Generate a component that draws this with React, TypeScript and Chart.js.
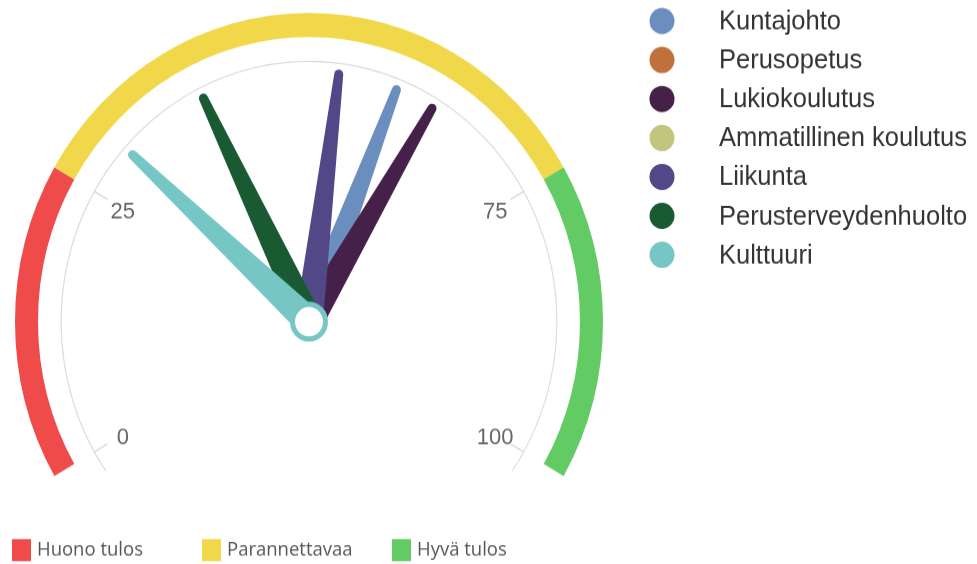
import React, { useEffect, useRef } from 'react';
import { Chart, registerables } from 'chart.js';

Chart.register(...registerables);

// ---------- data ----------
const seriesNames = [
  'Kuntajohto',
  'Perusopetus',
  'Lukiokoulutus',
  'Ammatillinen koulutus',
  'Liikunta',
  'Perusterveydenhuolto',
  'Kulttuuri',
];
const seriesValues: (number | null)[] = [59, null, 63, null, 53, 39, 30];
const seriesColors = ['#6a8fbf', '#c0703a', '#45214a', '#c0c67e', '#524888', '#1a5a33', '#77c6c6'];

const bandNames = ['Huono tulos', 'Parannettavaa', 'Hyvä tulos'];
const bandEdges = [0, 25, 75, 100];
const bandColors = ['#ef4b4b', '#f0d84a', '#63cb63'];

const tickValues = [0, 25, 75, 100];
const tickLabels = ['0', '25', '75', '100'];

const gaugeMin = 0;
const gaugeMax = 100;

// ---------- geometry / style ----------
const W = 977;
const PAGE_H = 564;
const H = 537; // drawing buffer height (stretched to PAGE_H by CSS)
const SWEEP = 240;
const OVERHANG = 5;
const R_OUT = 294;
const BAND_W = 23;
const GAP_W = 22.5;
const LINE_W = 1.2;
const CX = 309;
const CY = 306.3;

const unitsPerDeg = (gaugeMax - gaugeMin) / SWEEP;
const pad = OVERHANG * unitsPerDeg;
const bandData = [pad, ...bandEdges.slice(1).map((e, i) => e - bandEdges[i]), pad];
const bandBg = ['rgba(0,0,0,0)', ...bandColors, 'rgba(0,0,0,0)'];
const totalW = BAND_W + GAP_W + LINE_W;
const cutoutPct = ((R_OUT - totalW) / R_OUT) * 100;
const rot = -(SWEEP / 2 + OVERHANG);
const circ = SWEEP + 2 * OVERHANG;
// offsetY of a doughnut with this rotation/circumference (for placing the chart area)
const endRad = ((rot - 90 + circ) * Math.PI) / 180;
const offY = -(Math.sin(endRad) - 1) / 2;
const areaMidY = CY - offY * R_OUT;

const gaugePlugin = {
  id: 'gaugeExtras',
  afterDatasetsDraw(chart: any) {
    const ctx: CanvasRenderingContext2D = chart.ctx;
    const arcs = chart.getDatasetMeta(0).data as any[];
    if (!arcs.length) return;
    const cx = arcs[0].x;
    const cy = arcs[0].y;
    const a0 = arcs[1].startAngle;
    const a1 = arcs[arcs.length - 2].endAngle;
    const ang = (v: number) => a0 + ((v - gaugeMin) / (gaugeMax - gaugeMin)) * (a1 - a0);
    const lineArc = chart.getDatasetMeta(2).data[0] as any;
    const rLine = (lineArc.innerRadius + lineArc.outerRadius) / 2;

    ctx.save();
    // ticks + labels
    ctx.strokeStyle = '#d0d0d0';
    ctx.lineWidth = 1.2;
    ctx.fillStyle = '#666';
    ctx.font = '22px "Liberation Sans", Arial, sans-serif';
    ctx.textAlign = 'center';
    ctx.textBaseline = 'middle';
    tickValues.forEach((v, i) => {
      const a = ang(v);
      const c = Math.cos(a);
      const s = Math.sin(a);
      ctx.beginPath();
      ctx.moveTo(cx + c * (rLine - 15), cy + s * (rLine - 15));
      ctx.lineTo(cx + c * rLine, cy + s * rLine);
      ctx.stroke();
      ctx.fillText(tickLabels[i], cx + c * 215, cy + s * 215 + 3);
    });

    // needles
    const TIP = 237.5;
    const TIP_HW = 4.5;
    const BASE_HW = 14;
    let lastColor = seriesColors[seriesColors.length - 1];
    seriesValues.forEach((v, i) => {
      if (v == null) return;
      const a = ang(v);
      const c = Math.cos(a);
      const s = Math.sin(a);
      const px = -s;
      const py = c;
      const tx = cx + c * TIP;
      const ty = cy + s * TIP;
      ctx.beginPath();
      ctx.moveTo(cx + px * BASE_HW, cy + py * BASE_HW);
      ctx.lineTo(tx + px * TIP_HW, ty + py * TIP_HW);
      ctx.arc(tx, ty, TIP_HW, a + Math.PI / 2, a - Math.PI / 2, true);
      ctx.lineTo(cx - px * BASE_HW, cy - py * BASE_HW);
      ctx.arc(cx, cy, BASE_HW, a - Math.PI / 2, a + Math.PI / 2, true);
      ctx.closePath();
      ctx.fillStyle = seriesColors[i];
      ctx.fill();
      lastColor = seriesColors[i];
    });
    // pivot
    ctx.beginPath();
    ctx.arc(cx, cy, 16.5, 0, Math.PI * 2);
    ctx.fillStyle = '#fff';
    ctx.fill();
    ctx.lineWidth = 5;
    ctx.strokeStyle = lastColor;
    ctx.stroke();
    ctx.restore();
  },
  afterDraw(chart: any) {
    const ctx: CanvasRenderingContext2D = chart.ctx;
    ctx.save();
    // right legend (series)
    ctx.textAlign = 'left';
    ctx.textBaseline = 'middle';
    ctx.font = '25.5px "Liberation Sans", Arial, sans-serif';
    seriesNames.forEach((name, i) => {
      const y = 20 + i * 37.1;
      ctx.beginPath();
      ctx.arc(662, y, 12.5, 0, Math.PI * 2);
      ctx.fillStyle = seriesColors[i];
      ctx.fill();
      ctx.fillStyle = '#333';
      ctx.fillText(name, 719, y + 1);
    });
    // bottom legend (bands)
    ctx.font = '18.5px "Open Sans", "Liberation Sans", sans-serif';
    bandNames.forEach((name, i) => {
      const x = 12 + i * 190;
      const yMid = 523.8;
      ctx.fillStyle = bandColors[i];
      ctx.fillRect(x, yMid - 10.5, 19, 21);
      ctx.fillStyle = '#555';
      ctx.fillText(name, x + 25, yMid);
    });
    ctx.restore();
  },
};

export default function App() {
  const ref = useRef<HTMLCanvasElement>(null);

  useEffect(() => {
    const canvas = ref.current;
    if (!canvas) return;
    const chart = new Chart(canvas, {
      type: 'doughnut',
      data: {
        labels: ['', ...bandNames, ''],
        datasets: [
          { data: bandData, backgroundColor: bandBg, borderWidth: 0, weight: BAND_W } as any,
          { data: [1], backgroundColor: ['rgba(0,0,0,0)'], borderWidth: 0, weight: GAP_W } as any,
          { data: [1], backgroundColor: ['#dcdcdc'], borderWidth: 0, weight: LINE_W } as any,
        ],
      },
      options: {
        responsive: false,
        devicePixelRatio: 1,
        animation: false,
        events: [],
        rotation: rot,
        circumference: circ,
        radius: R_OUT,
        cutout: cutoutPct + '%',
        layout: {
          padding: {
            left: 0,
            right: W - 2 * CX,
            top: 0,
            bottom: H - 2 * areaMidY,
          },
        },
        plugins: {
          legend: { display: false },
          tooltip: { enabled: false },
        },
      } as any,
      plugins: [gaugePlugin],
    });
    return () => chart.destroy();
  }, []);

  return (
    <div style={{ position: 'fixed', left: 0, top: 0, width: W, height: PAGE_H, background: '#fff' }}>
      <canvas
        ref={ref}
        width={W}
        height={H}
        style={{ display: 'block', width: W + 'px', height: PAGE_H + 'px' }}
      />
    </div>
  );
}
